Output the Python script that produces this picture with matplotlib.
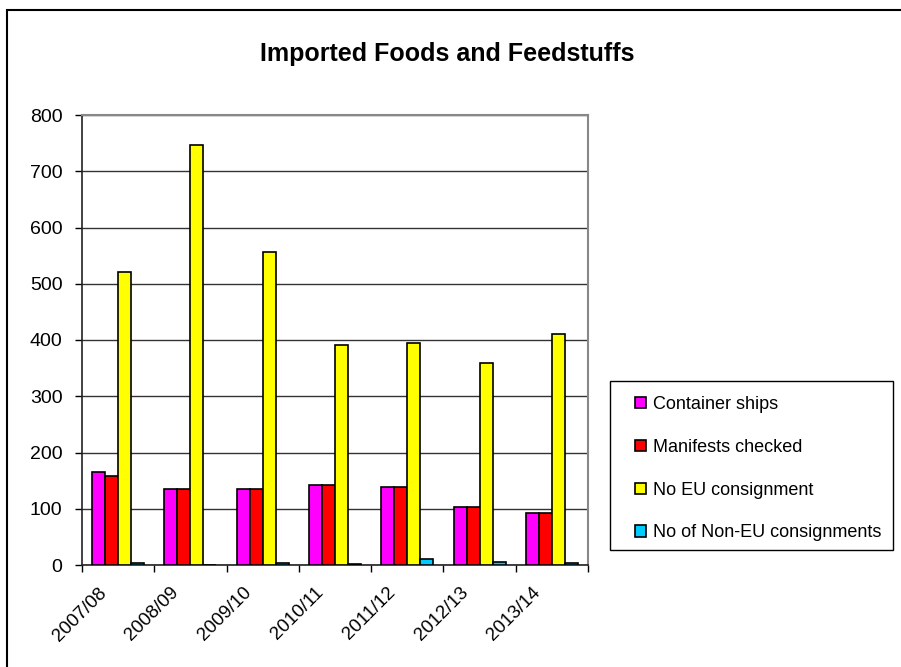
import numpy as np
import matplotlib
matplotlib.use("Agg")
import matplotlib.pyplot as plt
from matplotlib.patches import Rectangle

plt.rcParams['font.family'] = ['Liberation Sans', 'DejaVu Sans']

# data
years = ['2007/08', '2008/09', '2009/10', '2010/11', '2011/12', '2012/13', '2013/14']
container_ships = [165, 136, 136, 143, 139, 104, 92]
manifests_checked = [159, 136, 136, 143, 139, 104, 92]
no_eu = [521, 746, 556, 391, 394, 360, 410]
non_eu = [3, 0, 3, 2, 10, 6, 3]

series = [
    ('Container ships', container_ships, '#ff00ff'),
    ('Manifests checked', manifests_checked, '#ff0000'),
    ('No EU consignment', no_eu, '#ffff00'),
    ('No of Non-EU consignments', non_eu, '#00ccff'),
]

W, H = 901, 667
fig = plt.figure(figsize=(W / 100, H / 100), dpi=100)
ax = fig.add_axes([82 / W, 1 - 565 / H, (588 - 82) / W, (565 - 115) / H])

# outer chart border (right and bottom edges run off the picture)
fig.patches.append(Rectangle((7 / W, -0.1), 1.2, 1.1 - 10 / H, transform=fig.transFigure,
                             fill=False, edgecolor='black', linewidth=1.5))

x = np.arange(len(years))
w = 0.18
for i, (name, vals, col) in enumerate(series):
    ax.bar(x + (i - 1.5) * w, vals, w, color=col, edgecolor='black',
           linewidth=1.2, label=name, zorder=3)

ax.set_xlim(-0.5, len(years) - 0.5)
ax.set_ylim(0, 800)
ax.set_yticks(range(0, 801, 100))
ax.grid(axis='y', color='#333333', linewidth=1, zorder=0)
ax.tick_params(axis='y', labelsize=14, length=5, width=1, direction='out', pad=9)

# category ticks at boundaries, labels near centres
ax.set_xticks(np.arange(-0.5, len(years)))
ax.set_xticklabels([])
ax.tick_params(axis='x', length=5, width=1, direction='out')
for xi, lab in zip(x, years):
    ax.text(xi - 0.28, -34, lab, rotation=45, ha='right', va='top',
            rotation_mode='anchor', fontsize=13.5)

for s in ['top', 'right']:
    ax.spines[s].set_color('#888888')
    ax.spines[s].set_linewidth(1.5)
for s in ['left', 'bottom']:
    ax.spines[s].set_color('#222222')
    ax.spines[s].set_linewidth(1.2)

fig.text(447 / W, 1 - 54 / H, 'Imported Foods and Feedstuffs', ha='center', va='center',
         fontsize=18, fontweight='bold')

# legend box drawn separately so padding can be matched
fig.patches.append(Rectangle((610 / W, 1 - 550 / H), (893 - 610) / W, (550 - 381) / H,
                             transform=fig.transFigure, fill=False,
                             edgecolor='black', linewidth=1))
leg = fig.legend(loc='upper left', bbox_to_anchor=(635 / W, 1 - 396 / H),
                 fontsize=13, frameon=False, handlelength=0.6, handleheight=0.6,
                 handletextpad=0.4, labelspacing=1.43, borderpad=0,
                 borderaxespad=0)

fig.savefig('out.png', dpi=100)
